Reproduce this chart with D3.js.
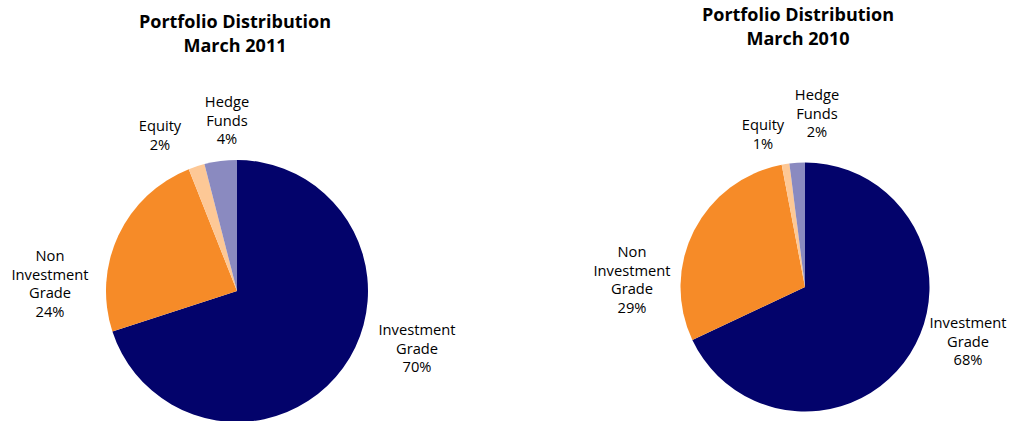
<!DOCTYPE html>
<html><head><meta charset="utf-8">
<script src="https://cdn.jsdelivr.net/npm/d3@7"></script>
<style>body{margin:0;background:#fff;}svg{display:block;}</style>
</head><body>
<svg id="c" width="1009" height="421"></svg>
<script>
const categories = ["Investment Grade", "Non Investment Grade", "Equity", "Hedge Funds"];
const values2011 = [70, 24, 2, 4];
const values2010 = [68, 29, 1, 2];
const titles = ["Portfolio Distribution|March 2011", "Portfolio Distribution|March 2010"];
const labelLines = [["Investment","Grade"],["Non","Investment","Grade"],["Equity"],["Hedge","Funds"]];
const colors = ["#03036b", "#f68b28", "#fdc896", "#8a8ac0"];

const svg = d3.select("#c");
const font = "'Open Sans', sans-serif";
const color = d3.scaleOrdinal().domain(categories).range(colors);

const charts = [
  {values: values2011, title: titles[0], cx: 237, cy: 291, r: 131, tx: 235, ty: 28,
   labels: [[417,335],[50,261],[160,131],[227,107]]},
  {values: values2010, title: titles[1], cx: 805, cy: 287, r: 124.5, tx: 798, ty: 21,
   labels: [[968,328],[632,257],[763,130],[817,100]]}
];

const pie = d3.pie().sort(null).value(d => d.v);
charts.forEach(ch => {
  const data = categories.map((c,i) => ({c, v: ch.values[i], i}));
  const g = svg.append("g").attr("transform", `translate(${ch.cx},${ch.cy})`);
  const arc = d3.arc().innerRadius(0).outerRadius(ch.r);
  g.selectAll("path").data(pie(data)).join("path")
    .attr("d", arc).attr("fill", d => color(d.data.c));
  const t = svg.append("text").attr("text-anchor","middle")
    .attr("font-family", font).attr("font-weight", 700).attr("font-size", 18).attr("fill","#000");
  ch.title.split("|").forEach((s,k) => t.append("tspan").attr("x", ch.tx).attr("y", ch.ty + k*24).text(s));
  data.forEach((d,i) => {
    const [lx, ly] = ch.labels[i];
    const lt = svg.append("text").attr("text-anchor","middle")
      .attr("font-family", font).attr("font-size", 14.7).attr("fill","#000");
    const lines = labelLines[i].concat([d.v + "%"]);
    lines.forEach((s,k) => lt.append("tspan").attr("x", lx).attr("y", ly + k*18.7).text(s));
  });
});
</script>
</body></html>
